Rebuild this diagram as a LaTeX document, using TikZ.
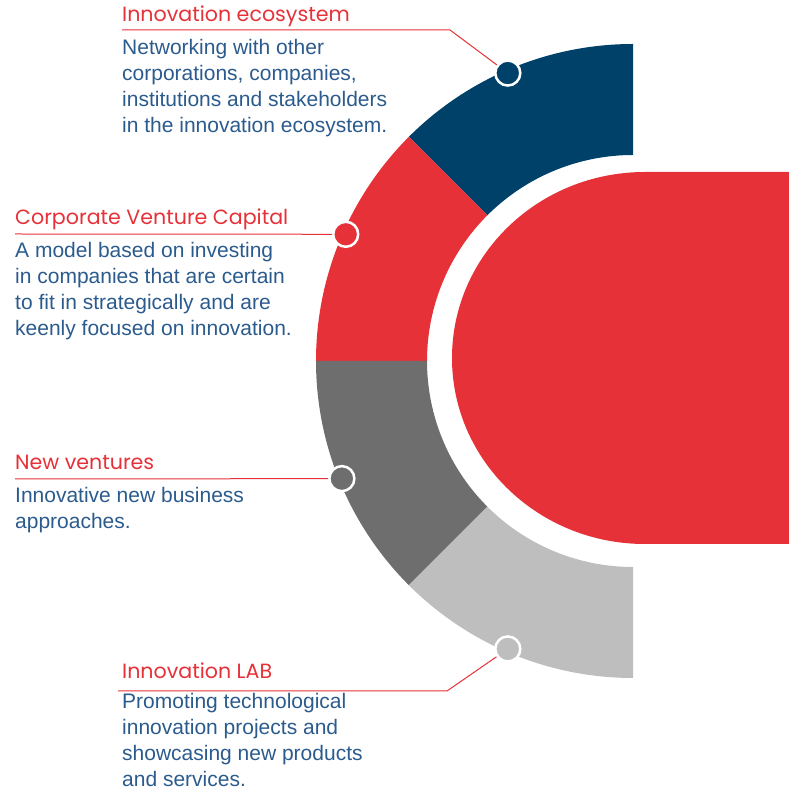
\documentclass[tikz,border=0pt]{standalone}
\usepackage{fontspec}
\setmainfont{Liberation Sans}
\newfontfamily\headfont{Poppins}
\usetikzlibrary{calc}
\definecolor{navy}{HTML}{004169}
\definecolor{brand}{HTML}{E63138}
\definecolor{darkgrey}{HTML}{6E6E6E}
\definecolor{lightgrey}{HTML}{BEBEBE}
\definecolor{textblue}{HTML}{2B5B8D}

\begin{document}
\begin{tikzpicture}[x=1pt, y=1pt,
	head/.style={anchor=base west, inner sep=0, text=brand, font=\headfont\fontsize{20.6}{24}\selectfont},
	body/.style={anchor=base west, inner sep=0, align=left, text=textblue, font=\fontsize{21}{26}\selectfont},
	lead/.style={draw=brand, line width=1pt},
	dot/.style={circle, draw=white, line width=2.5pt, minimum size=25pt, inner sep=0}]
	\useasboundingbox (0,0) rectangle (789,790);
	\def\R{317}
	\def\r{206}
	\coordinate (c) at (633,429);

	% ring, four quarters of a half
	\foreach \a/\col in {90/navy, 135/brand, 180/darkgrey, 225/lightgrey}
		\fill[\col] ($(c)+(\a:\R)$) arc[start angle=\a, delta angle=45, radius=\R]
			-- ($(c)+(\a+45:\r)$) arc[start angle=\a+45, delta angle=-45, radius=\r] -- cycle;

	% big red tab
	\fill[brand] (789,618) -- (645,618) arc[start angle=90, end angle=270, x radius=193, y radius=186] -- (789,246) -- cycle;

	\node[dot, fill=navy] (ecoDot) at ($(c)+(113.5:314)$) {};
	\node[dot, fill=brand] (cvcDot) at ($(c)+(156.2:314)$) {};
	\node[dot, fill=darkgrey] (nvDot) at ($(c)+(202:314)$) {};
	\node[dot, fill=lightgrey] (labDot) at ($(c)+(246.5:314)$) {};

	% base of a body node is its last line
	\node[head] (ecoT) at (122,768) {Innovation ecosystem};
	\node[body] (ecoB) at (122,657) {Networking with other\\corporations, companies,\\institutions and stakeholders\\in the innovation ecosystem.};
	\coordinate (ecoL) at (122,760);
	\coordinate (ecoK) at (450,760);
	\draw[lead] (ecoL) -- (ecoK) -- (ecoDot);

	\node[head] (cvcT) at (15,565) {Corporate Venture Capital};
	\node[body] (cvcB) at (15,454) {A model based on investing\\in companies that are certain\\to fit in strategically and are\\keenly focused on innovation.};
	\coordinate (cvcL) at (15,556);
	\draw[lead] (cvcL) -- (cvcDot);

	\node[head] (nvT) at (15,320) {New ventures};
	\node[body] (nvB) at (15,261) {Innovative new business\\approaches.};
	\coordinate (nvL) at (15,311);
	\draw[lead] (nvL) -- (nvDot);

	\node[head] (labT) at (122,111) {Innovation LAB};
	\node[body] (labB) at (122,3) {Promoting technological\\innovation projects and\\showcasing new products\\and services.};
	\coordinate (labL) at (118,99);
	\coordinate (labK) at (447,99);
	\draw[lead] (labL) -- (labK) -- (labDot);
\end{tikzpicture}
\end{document}
